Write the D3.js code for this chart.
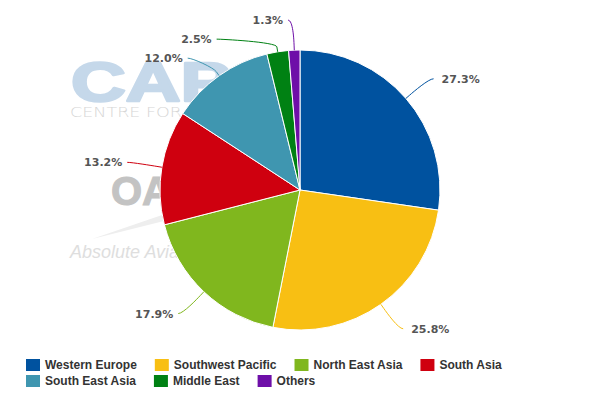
<!DOCTYPE html>
<html>
<head>
<meta charset="utf-8">
<script src="https://cdn.jsdelivr.net/npm/d3@7"></script>
<style>
  html, body { margin: 0; padding: 0; background: #fff; }
  svg { display: block; }
</style>
</head>
<body>
<svg id="chart" width="600" height="400"></svg>
<script>
// ---- data ----
const categories = ["Western Europe", "Southwest Pacific", "North East Asia", "South Asia", "South East Asia", "Middle East", "Others"];
const shares = [27.3, 25.8, 17.9, 13.2, 12.0, 2.5, 1.3];
const colors = ["#00529f", "#f8bf13", "#80b71e", "#cf000f", "#3f96b0", "#008113", "#6e0fa8"];

const W = 600, H = 400;
const cx = 300, cy = 190, r = 140, labelDist = 30;

const svg = d3.select("#chart");

// ---- background watermark ----
const wm = svg.append("g").attr("class", "watermark");
wm.append("text").text("CAPA")
  .attr("transform", "translate(71,101) scale(1.38,1)")
  .attr("font-family", "Liberation Sans, Arial, sans-serif").attr("font-weight", "bold")
  .attr("font-size", 55).attr("fill", "#c5d8ea")
  .attr("stroke", "#c5d8ea").attr("stroke-width", 2.5).attr("stroke-linejoin", "round");
wm.append("text").text("CENTRE FOR AVIATION")
  .attr("transform", "translate(70,117) scale(1.3,1)")
  .attr("font-family", "DejaVu Sans, sans-serif").attr("font-weight", 200)
  .attr("font-size", 13.5).attr("fill", "#d6d6d6");
wm.append("path")
  .attr("d", "M92,239 L165,214 L168,220 Z")
  .attr("fill", "#eeeeee");
wm.append("text").text("OA")
  .attr("x", 111).attr("y", 205)
  .attr("font-family", "Liberation Sans, Arial, sans-serif").attr("font-weight", "bold")
  .attr("font-size", 40).attr("fill", "#c3c3c3")
  .attr("stroke", "#c3c3c3").attr("stroke-width", 1);
wm.append("text").text("Absolute Aviation")
  .attr("x", 70).attr("y", 258)
  .attr("font-family", "Liberation Sans, Arial, sans-serif").attr("font-style", "italic")
  .attr("font-size", 18).attr("fill", "#dedede");

// ---- pie ----
const pie = d3.pie().sort(null).value(d => d.v);
const data = categories.map((c, i) => ({ name: c, v: shares[i], color: colors[i] }));
const arcs = pie(data);
const arc = d3.arc().innerRadius(0).outerRadius(r);

const g = svg.append("g").attr("transform", `translate(${cx},${cy})`);
g.selectAll("path.slice").data(arcs).enter().append("path")
  .attr("class", "slice")
  .attr("d", arc)
  .attr("fill", d => d.data.color)
  .attr("stroke", "#ffffff").attr("stroke-width", 1).attr("stroke-linejoin", "round");

// ---- labels with soft connectors ----
const pt = (ang, rad) => [Math.sin(ang) * rad, -Math.cos(ang) * rad];
const labels = arcs.map(a => {
  const mid = (a.startAngle + a.endAngle) / 2;
  const p = pt(mid, r + labelDist);
  return { a, mid, side: Math.sin(mid) >= 0 ? 1 : -1, y: p[1], ny: p[1] };
});
// resolve overlaps per side (push downward from top)
[1, -1].forEach(side => {
  const ls = labels.filter(l => l.side === side).sort((a, b) => a.ny - b.ny);
  for (let i = 1; i < ls.length; i++) {
    if (ls[i].y < ls[i - 1].y + 19) ls[i].y = ls[i - 1].y + 19;
  }
});
const R = r + labelDist;
labels.forEach(l => {
  const dy = Math.max(-R, Math.min(R, l.y));
  l.x = l.side * Math.sqrt(R * R - dy * dy);
});

const lg = svg.append("g").attr("transform", `translate(${cx},${cy})`);
labels.forEach(l => {
  const p2 = pt(l.mid, r + 5), p3 = pt(l.mid, r), pc = pt(l.mid, r + 10);
  const path = `M${l.x + l.side * 5},${l.y} C${l.x},${l.y} ${pc[0]},${pc[1]} ${p2[0]},${p2[1]} L${p3[0]},${p3[1]}`;
  lg.append("path").attr("d", path).attr("fill", "none")
    .attr("stroke", l.a.data.color).attr("stroke-width", 1);
  lg.append("text")
    .attr("x", l.side > 0 ? l.x + 13 : l.x - 10)
    .attr("y", l.y).attr("dy", "0.36em")
    .attr("text-anchor", l.side > 0 ? "start" : "end")
    .attr("font-family", "DejaVu Sans, Verdana, sans-serif")
    .attr("font-weight", "bold").attr("font-size", 11)
    .attr("fill", "#555555")
    .text(d3.format(".1f")(l.a.data.v) + "%");
});

// ---- legend ----
const legend = svg.append("g");
const startX = 26, maxX = 585, rowH = 16, firstRowY = 365;
let lx = startX, row = 0;
categories.forEach((c, i) => {
  const item = legend.append("g");
  const t = item.append("text")
    .attr("x", 19).attr("y", 0).attr("dy", "0.36em")
    .attr("font-family", "Liberation Sans, Arial, sans-serif")
    .attr("font-weight", "bold").attr("font-size", 12)
    .attr("fill", "#333333").text(c);
  const w = t.node().getComputedTextLength();
  if (lx + 19 + w > maxX) { lx = startX; row++; }
  item.attr("transform", `translate(${lx},${firstRowY + row * rowH})`);
  item.insert("rect", "text").attr("x", 0).attr("y", -6).attr("width", 14).attr("height", 12)
    .attr("fill", colors[i]);
  lx += 19 + w + 18;
});
</script>
</body>
</html>
